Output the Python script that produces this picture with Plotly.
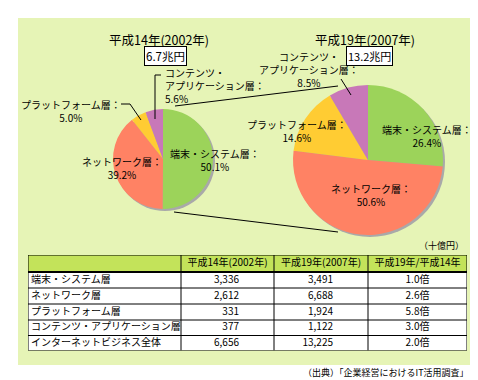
import plotly.graph_objects as go

# ---------------- data ----------------
segments = ["端末・システム層", "ネットワーク層", "プラットフォーム層", "コンテンツ・アプリケーション層"]
total_label = "インターネットビジネス全体"
values_2002 = [3336, 2612, 331, 377]
values_2007 = [3491, 6688, 1924, 1122]
total_2002 = 6656
total_2007 = 13225
ratio_labels = ["1.0倍", "2.6倍", "5.8倍", "3.0倍", "2.0倍"]
pct_2002 = ["50.1%", "39.2%", "5.0%", "5.6%"]
pct_2007 = ["26.4%", "50.6%", "14.6%", "8.5%"]
title_2002 = "平成14年(2002年)"
title_2007 = "平成19年(2007年)"
size_2002 = "6.7兆円"
size_2007 = "13.2兆円"
col_headers = ["", "平成14年(2002年)", "平成19年(2007年)", "平成19年/平成14年"]
unit_label = "（十億円）"
source_label = "（出典）「企業経営におけるIT活用調査」"

# ---------------- styles / layout ----------------
W, H = 478, 380
FONT = "Noto Sans CJK JP"
colors = ["#9CD35A", "#FF8264", "#FFCC33", "#C878B8"]
bg_panel = "#E6F4B6"
header_fill = "#C3E35A"
shadow = "#A9A9A9"

# table geometry (pixels inside the table area)
TBL_X0, TBL_X1, TBL_Y0, TBL_Y1 = 20, 459, 247, 342.5
col_edges = [0, 153, 246, 340, 439]
row_edges = [0, 17, 33, 49, 65, 80.5, 95.5]


def px(x):
    return x / W


def py(y):
    return 1 - y / H


def pie_domain(cx, cy, r, dx=0, dy=0):
    return dict(x=[px(cx - r + dx), px(cx + r + dx)], y=[py(cy + r + dy), py(cy - r + dy)])


fig = go.Figure()

# pie shadows
for cx, cy, r in [(155, 151, 50), (360, 152, 75)]:
    fig.add_trace(go.Pie(values=[1], marker=dict(colors=[shadow], line=dict(width=0)),
                         domain=pie_domain(cx, cy, r, 2, 2), textinfo="none",
                         hoverinfo="skip", showlegend=False, sort=False))

# pies
for vals, (cx, cy, r) in [(values_2002, (155, 151, 50)), (values_2007, (360, 152, 75))]:
    fig.add_trace(go.Pie(values=vals, labels=segments,
                         marker=dict(colors=colors, line=dict(width=0)),
                         domain=pie_domain(cx, cy, r), textinfo="none",
                         direction="clockwise", rotation=0, sort=False,
                         hoverinfo="skip", showlegend=False))

# ---------------- table on its own axes ----------------
row_labels = segments + [total_label]
col1 = [f"{v:,}" for v in values_2002 + [total_2002]]
col2 = [f"{v:,}" for v in values_2007 + [total_2007]]
row_centers = [(row_edges[i] + row_edges[i + 1]) / 2 for i in range(len(row_edges) - 1)]
body_y = row_centers[1:]
tfont = dict(family=FONT, size=10, color="black")

# header text
fig.add_trace(go.Scatter(
    x=[(col_edges[i] + col_edges[i + 1]) / 2 for i in range(1, 4)],
    y=[row_centers[0]] * 3, text=col_headers[1:], mode="text", textposition="middle center",
    textfont=tfont, xaxis="x", yaxis="y", hoverinfo="skip", showlegend=False, cliponaxis=False))
# first column (left aligned)
fig.add_trace(go.Scatter(
    x=[col_edges[0] + 3] * len(row_labels), y=body_y, text=row_labels, mode="text",
    textposition="middle right", textfont=tfont, xaxis="x", yaxis="y",
    hoverinfo="skip", showlegend=False, cliponaxis=False))
# numeric columns (right aligned, inset)
for vals, edge in [(col1, col_edges[2]), (col2, col_edges[3])]:
    fig.add_trace(go.Scatter(
        x=[edge - 35] * len(vals), y=body_y, text=vals, mode="text",
        textposition="middle left", textfont=tfont, xaxis="x", yaxis="y",
        hoverinfo="skip", showlegend=False, cliponaxis=False))
# ratio column (centered)
fig.add_trace(go.Scatter(
    x=[(col_edges[3] + col_edges[4]) / 2] * len(ratio_labels), y=body_y, text=ratio_labels,
    mode="text", textposition="middle center", textfont=tfont, xaxis="x", yaxis="y",
    hoverinfo="skip", showlegend=False, cliponaxis=False))

shapes = [
    dict(type="rect", xref="paper", yref="paper", x0=px(10), x1=px(468), y0=py(357), y1=py(10),
         fillcolor=bg_panel, line=dict(width=0), layer="below"),
    # table fills
    dict(type="rect", xref="x", yref="y", x0=col_edges[0], x1=col_edges[-1], y0=row_edges[0],
         y1=row_edges[1], fillcolor=header_fill, line=dict(width=0), layer="below"),
    dict(type="rect", xref="x", yref="y", x0=col_edges[0], x1=col_edges[-1], y0=row_edges[1],
         y1=row_edges[-1], fillcolor="white", line=dict(width=0), layer="below"),
]
for xe in col_edges:
    shapes.append(dict(type="line", xref="x", yref="y", x0=xe, x1=xe, y0=row_edges[0], y1=row_edges[-1],
                       line=dict(color="black", width=1)))
for ye in row_edges:
    shapes.append(dict(type="line", xref="x", yref="y", x0=col_edges[0], x1=col_edges[-1], y0=ye, y1=ye,
                       line=dict(color="black", width=2 if ye == row_edges[1] else 1)))


def line(x0, y0, x1, y1):
    return dict(type="line", xref="paper", yref="paper", x0=px(x0), y0=py(y0), x1=px(x1), y1=py(y1),
                line=dict(color="black", width=1))


shapes += [
    line(167, 98, 330, 78),
    line(166, 204, 330, 224),
    line(113, 96, 122, 96), line(122, 96, 133, 112),
    line(153, 67, 147, 67), line(147, 67, 147, 111),
    line(333, 71, 343, 87),
]

annotations = []


def ann(text, x, y, size=10, xanchor="center", align="center", **kw):
    annotations.append(dict(text=text, x=px(x), y=py(y), xref="paper", yref="paper",
                            xanchor=xanchor, yanchor="middle", showarrow=False, align=align,
                            font=dict(family=FONT, size=size, color="black"), **kw))


ann(title_2002, 151, 31, 12.5)
ann(title_2007, 357, 31, 12.5)
ann(size_2002, 157.5, 47.5, 11.5, bgcolor="white", bordercolor="black", borderwidth=1, borderpad=1)
ann(size_2007, 361.5, 48, 11, bgcolor="white", bordercolor="black", borderwidth=1, borderpad=1)

seg_text = ["端末・システム層：", "ネットワーク層：", "プラットフォーム層：", "コンテンツ・<br>アプリケーション層："]

# pie 2002 labels
ann(f"{seg_text[0]}<br>{pct_2002[0]}", 207, 152)
ann(f"{seg_text[1]}<br>{pct_2002[1]}", 114, 160.5)
ann(f"{seg_text[2]}<br>{pct_2002[2]}", 63, 102.5)
ann(f"{seg_text[3]}<br>{pct_2002[3]}", 155, 78, xanchor="left", align="left")

# pie 2007 labels
ann(f"{seg_text[0]}<br>{pct_2007[0]}", 419, 127.5)
ann(f"{seg_text[1]}<br>{pct_2007[1]}", 363, 187)
ann(f"{seg_text[2]}<br>{pct_2007[2]}", 289, 123.5)
ann(f"{seg_text[3]}<br>{pct_2007[3]}", 301, 61.5)

ann(unit_label, 458, 238, 9, xanchor="right")
ann(source_label, 463, 364, 9, xanchor="right")

fig.update_layout(
    width=W, height=H, margin=dict(l=0, r=0, t=0, b=0),
    paper_bgcolor="white", plot_bgcolor="rgba(0,0,0,0)",
    xaxis=dict(domain=[px(TBL_X0), px(TBL_X1)], range=[col_edges[0], col_edges[-1]],
               visible=False, fixedrange=True),
    yaxis=dict(domain=[py(TBL_Y1), py(TBL_Y0)], range=[row_edges[-1], row_edges[0]],
               visible=False, fixedrange=True),
    shapes=shapes, annotations=annotations, showlegend=False)

fig.write_html("out.html")
